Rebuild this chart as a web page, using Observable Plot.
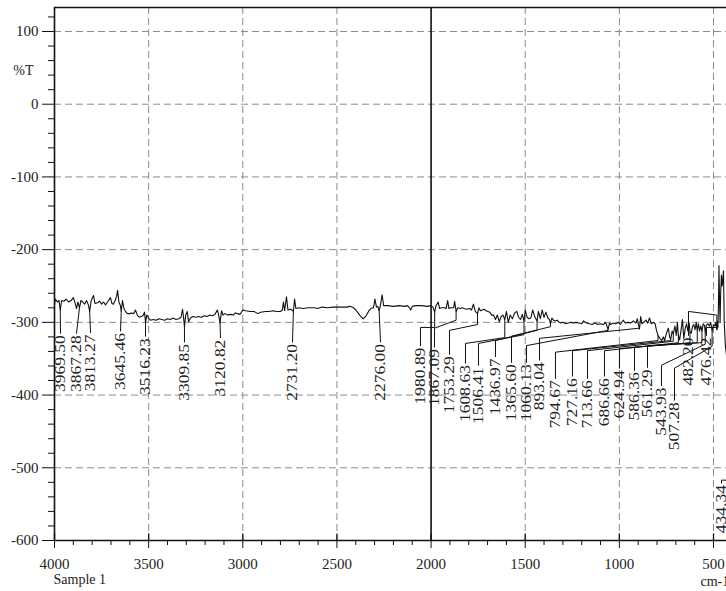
<!DOCTYPE html>
<html><head><meta charset="utf-8">
<script src="https://cdn.jsdelivr.net/npm/d3@7"></script>
<script src="https://cdn.jsdelivr.net/npm/@observablehq/plot@0.6"></script>
<style>
html,body{margin:0;padding:0;background:#fff;overflow:hidden}
#chart{width:726px;height:591px}
</style></head><body><div id="chart"></div>
<script>
// ---- spectrum (wavenumber cm-1, %T) ----
const wavenumbers = [
4000,3995,3985,3976,3969.5,3962,3950,3938,3925,3912,3900,3890,3883,3876,3867.3,3860,3850,3840,3830,3820,3813.3,3805,3793,3785,3772,3760,3750,3740,3729,3718,3708,3703,3695,3687,3678,3670,3665,3658,3650,3645.5,3639,3630,3620,3612,3600,3590,3580,3570,3560,3550,3540,3530,3522,3516.2,3510,3500,
3490,3475,3460,3445,3430,3415,3400,3385,3370,3355,3340,3328,3320,3315,3309.9,3303,3295,3288,3278,3265,3250,3235,3220,3205,3190,3175,3160,3148,3135,3128,3120.8,3113,3105,3095,3080,3065,3050,3040,3028,3015,3005,
2998,2985,2960,2940,2920,2905,2880,2860,2840,2820,2800,2790,2784,2778,2768,2760,2745,2731.2,2725,2718,2700,2680,2650,2620,2600,2580,2550,2520,2500,2480,2450,2430,2412,2400,2385,2370,2359,2345,2330,2320,2306,2298,2290,2283,2276,2270,2260,2252,2230,2200,2170,2140,2125,2115,2108,2100,2080,2050,2020,2000,
1990,1980.9,1975,1962,1955,1945,1930,1920,1912,1905,1895,1880,1875,1867.1,1858,1845,1835,1825,1810,1795,1785,1775,1765,1753.3,1746,1738,1728,1718,1708,1698,1688,1678,1668,1658,1648,1638,1628,1618,1608.6,1600,1590,1580,1568,1556,1545,1535,1525,1515,1506.4,1500,1490,1480,1470,1460,1450,1437,1430,1420,1410,1400,1390,1380,1372,1365.6,1358,1350,1340,1330,1320,1310,1300,1285,1270,1260,1245,1230,1215,1200,1190,1175,1160,1145,1130,1115,1100,1085,1075,1068,1060.1,1052,1045,1035,1020,1005,
995,980,968,955,940,925,912,905,898,893,887,880,870,858,850,840,830,820,810,802,794.7,785,775,766,760,750,740,733,727.2,720,713.7,705,698,692,686.7,680,672,665,658,650,643,636,630,624.9,618,612,605,598,592,586.4,580,574,568,561.3,555,548,543.9,538,530,522,515,507.3,500,
493,488,482.2,478,476.4,474,471,468,465,462,458,454,450,447,443,437,431,425,415];
const transmittance = [
-275,-268,-272,-270,-283,-270,-271,-268,-272,-270,-266,-274,-281,-272,-280,-270,-272,-275,-270,-276,-285,-270,-263,-274,-273,-271,-275,-272,-276,-272,-268,-266,-274,-275,-270,-264,-256,-272,-277,-285,-270,-282,-286,-288,-288,-287,-288,-283,-290,-293,-292,-291,-286,-300,-290,-294,
-297,-296,-297,-295,-296,-297,-295,-296,-294,-296,-295,-293,-282,-292,-306,-290,-285,-299,-294,-292,-293,-292,-293,-291,-292,-290,-291,-289,-283,-290,-301,-284,-290,-288,-290,-289,-290,-287,-288,-289,-285,
-283,-284,-285,-285,-288,-286,-285,-285,-284,-285,-285,-283,-272,-284,-265,-283,-282,-285,-268,-281,-280,-281,-280,-280,-281,-279,-280,-279,-279,-279,-279,-278,-280,-283,-288,-293,-295,-291,-284,-281,-280,-268,-279,-278,-284,-278,-262,-277,-277,-278,-277,-278,-277,-280,-283,-278,-277,-277,-278,-277,
-279,-286,-278,-272,-281,-280,-280,-281,-270,-281,-280,-280,-271,-285,-280,-281,-280,-281,-282,-281,-283,-275,-285,-288,-280,-284,-283,-282,-284,-285,-286,-290,-290,-296,-290,-299,-292,-290,-296,-285,-300,-290,-295,-287,-285,-293,-296,-289,-299,-283,-293,-295,-294,-283,-292,-298,-285,-295,-283,-293,-286,-294,-296,-301,-294,-297,-298,-297,-300,-301,-300,-302,-301,-300,-301,-300,-301,-302,-298,-301,-302,-303,-301,-303,-302,-303,-300,-303,-310,-301,-303,-301,-302,-300,
-303,-297,-301,-300,-301,-298,-301,-295,-304,-309,-292,-302,-300,-297,-301,-294,-302,-300,-302,-312,-318,-322,-325,-320,-325,-315,-308,-320,-323,-312,-316,-305,-318,-300,-318,-324,-310,-296,-322,-308,-302,-312,-300,-313,-315,-306,-303,-310,-300,-311,-302,-312,-305,-312,-302,-304,-314,-304,-302,-305,-300,-312,-303,
-305,-300,-310,-298,-306,-280,-222,-270,-300,-260,-235,-250,-240,-229,-300,-332,-345,-440,-520];

// ---- peak annotations ----
const peakLabels = ["3969.50","3867.28","3813.27","3645.46","3516.23","3309.85","3120.82","2731.20","2276.00","1980.89","1867.09","1753.29","1608.63","1506.41","1436.97","1365.60","1060.13","893.04","794.67","727.16","713.66","686.66","624.94","586.36","561.29","543.93","507.28","482.20","476.42","434.34"];
const peakWavenumbers = [3969.50,3867.28,3813.27,3645.46,3516.23,3309.85,3120.82,2731.20,2276.00,1980.89,1867.09,1753.29,1608.63,1506.41,1436.97,1365.60,1060.13,893.04,794.67,727.16,713.66,686.66,624.94,586.36,561.29,543.93,507.28,482.20,476.42,415];
// label column position (cm-1) and %T at the end (top) of each label
const labelPositions = [3968.1,3883.2,3808.8,3649.5,3516.7,3309.6,3118.4,2736.0,2268.6,2056.2,1981.8,1902.2,1817.2,1748.2,1657.9,1572.9,1493.3,1424.2,1339.3,1249.0,1169.3,1079.0,999.3,919.6,850.6,776.3,707.2,632.8,537.2,457.6];
const labelTops = [-315,-315,-314,-312,-319,-327,-321,-327,-327,-332,-334,-344,-356,-359,-347,-355,-355,-352,-377,-374,-377,-374,-363,-366,-362,-387,-407,-318,-318,-521];
// leader elbows: %T at the peak side and at the label side (null = straight leader)
const elbowAtPeak = [null,null,null,null,null,null,null,null,null,-307,-297,-303,-321,-317,-311,-306,-311,-308,-325,-325,-326,-328,-328,-328,-328,-330,-333,-290,-307,-517];
const elbowAtLabel = [null,null,null,null,null,null,null,null,null,-307,-308,-311,-329,-329,-325,-319,-332,-322,-341,-339,-339,-339,-336,-334,-332,-359,-363,-285,-307,-517];

// ---- axes ----
const xMajorTicks = [4000,3500,3000,2500,2000,1500,1000,500];
const xGrid = [3500,3000,2500,1500,1000,500];
const yMajorTicks = [100,0,-100,-200,-300,-400,-500,-600];
const yGrid = [100,0,-100,-200,-300,-400,-500];
const xMinorTicks = d3.range(500, 4001, 100).filter(v => v % 500 !== 0);
const yMinorTicks = d3.range(-600, 121, 20).filter(v => v % 100 !== 0);

const spectrum = wavenumbers.map((w, i) => ({w, t: transmittance[i]}));
function curveAt(w) {
  for (let i = 0; i < wavenumbers.length - 1; i++) {
    const a = wavenumbers[i], b = wavenumbers[i + 1];
    if (w <= a && w >= b) {
      const k = (a - w) / (a - b);
      return transmittance[i] + k * (transmittance[i + 1] - transmittance[i]);
    }
  }
  return transmittance[transmittance.length - 1];
}
const leaders = [];
const labels = peakLabels.map((label, i) => {
  const p = peakWavenumbers[i], lx = labelPositions[i], top = labelTops[i];
  const pts = [[p, curveAt(p)]];
  if (elbowAtPeak[i] != null) pts.push([p, elbowAtPeak[i]]);
  if (elbowAtLabel[i] != null) pts.push([lx, elbowAtLabel[i]]);
  pts.push([lx, top]);
  pts.forEach(([x, y]) => leaders.push({id: i, x, y}));
  return {label, x: lx, y: top};
});

const FONT = "'Liberation Serif','Times New Roman',serif";
const chart = Plot.plot({
  width: 726, height: 591,
  marginLeft: 54, marginRight: 0, marginTop: 7, marginBottom: 51,
  x: {domain: [4000, 431]},
  y: {domain: [-600, 133]},
  style: {fontFamily: FONT, fontSize: "15px", color: "#222", background: "#fff"},
  marks: [
    Plot.ruleY(yGrid, {stroke: "#8c8c8c", strokeDasharray: "7,4", strokeWidth: 1}),
    Plot.ruleX(xGrid, {stroke: "#8c8c8c", strokeDasharray: "7,4", strokeWidth: 1}),
    Plot.ruleX([2000], {stroke: "#111", strokeWidth: 1.6}),
    Plot.ruleX(xMajorTicks, {y1: -600, y2: -591, stroke: "#111", strokeWidth: 1.3}),
    Plot.ruleY([-600, 133], {stroke: "#111", strokeWidth: 1.5}),
    Plot.ruleX([4000], {stroke: "#111", strokeWidth: 1.6}),
    Plot.axisX({ticks: xMajorTicks, tickSize: 8, tickPadding: 10, label: null, tickFormat: d => String(d), fontSize: 15, stroke: "#111"}),
    Plot.axisX({ticks: xMinorTicks, tickSize: 5, label: null, tickFormat: () => "", stroke: "#111"}),
    Plot.axisY({ticks: yMajorTicks, tickSize: 12, tickPadding: 4, label: null, tickFormat: d => String(d), fontSize: 15, stroke: "#111"}),
    Plot.axisY({ticks: yMinorTicks, tickSize: 6, label: null, tickFormat: () => "", stroke: "#111"}),
    Plot.line(leaders, {x: "x", y: "y", z: "id", stroke: "#111", strokeWidth: 1, clip: true}),
    Plot.line(spectrum, {x: "w", y: "t", stroke: "#111", strokeWidth: 1.1, clip: true}),
    Plot.text(labels, {x: "x", y: "y", text: "label", rotate: -90, textAnchor: "end", lineAnchor: "middle", dy: 2, fontSize: 14, fill: "#222", clip: true}),
    Plot.text(["%T"], {y: 46, frameAnchor: "left", dx: -21, textAnchor: "end", fontSize: 14, fill: "#222"}),
    Plot.text(["Sample 1"], {frameAnchor: "bottom-left", dx: -1, dy: 43, textAnchor: "start", fontSize: 14, fill: "#222"}),
    Plot.text(["cm-1"], {frameAnchor: "bottom-right", dx: -26, dy: 45, textAnchor: "start", fontSize: 14, fill: "#222"})
  ]
});
// the source figure's peak labels are slightly stretched along their length
chart.querySelectorAll("text").forEach(el => {
  const t = el.getAttribute("transform") || "";
  if (t.includes("rotate(-90")) el.setAttribute("transform", t + " scale(1.25,1)");
});
document.getElementById("chart").appendChild(chart);
</script>
</body></html>
